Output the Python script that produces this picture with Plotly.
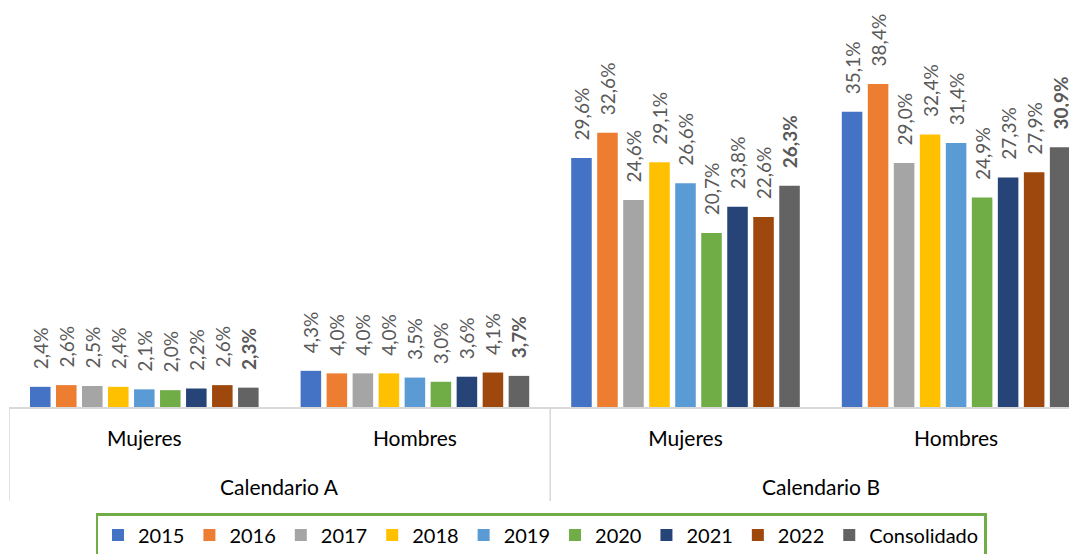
import plotly.graph_objects as go

calendarios = ["Calendario A", "Calendario A", "Calendario B", "Calendario B"]
sexos = ["Mujeres", "Hombres", "Mujeres", "Hombres"]
group_labels = ["Calendario A", "Calendario B"]

series_names = ["2015", "2016", "2017", "2018", "2019", "2020", "2021", "2022", "Consolidado"]
v2015 = [2.4, 4.3, 29.6, 35.1]
v2016 = [2.6, 4.0, 32.6, 38.4]
v2017 = [2.5, 4.0, 24.6, 29.0]
v2018 = [2.4, 4.0, 29.1, 32.4]
v2019 = [2.1, 3.5, 26.6, 31.4]
v2020 = [2.0, 3.0, 20.7, 24.9]
v2021 = [2.2, 3.6, 23.8, 27.3]
v2022 = [2.6, 4.1, 22.6, 27.9]
vcons = [2.3, 3.7, 26.3, 30.9]
series_values = [v2015, v2016, v2017, v2018, v2019, v2020, v2021, v2022, vcons]

colors = ["#4472C4", "#ED7D31", "#A5A5A5", "#FFC000", "#5B9BD5",
          "#70AD47", "#264478", "#9E480E", "#636363"]

FONT = "Lato, Open Sans, sans-serif"
PAD = "\u00a0" * 3

# unique category ids for each (calendario, sexo) pair
cat_ids = [f"{c}|{s}" for c, s in zip(calendarios, sexos)]

# page body has an 8px margin: figure is drawn offset by (8, 8)
W, H = 1069, 546
PLOT_H = 399.0   # plot area height (baseline at page y=407)
PLOT_W = 1068.0  # plot area width (page x 9 .. 1077)
CAT_PX = 270.6   # pixels per category (the right part is cropped like the reference)
x_range = [-0.5, -0.5 + PLOT_W / CAT_PX]

fig = go.Figure()
for name, vals, col in zip(series_names, series_values, colors):
    bold = name == "Consolidado"
    fig.add_trace(go.Bar(
        name=name,
        x=cat_ids,
        y=vals,
        marker=dict(color=col, line=dict(width=0)),
        texttemplate=(PAD + "<b>%{y:.1f}%</b>" if bold else PAD + "%{y:.1f}%"),
        textposition="outside",
        textangle=-90,
        constraintext="none",
        textfont=dict(family=FONT, size=19, color="#595959"),
        cliponaxis=False,
    ))

def py(page_y):
    return -(page_y - 407) / PLOT_H

annotations = []
for i, g in enumerate(group_labels):
    annotations.append(dict(
        text=g, xref="x", yref="paper",
        x=0.5 + 2 * i, y=py(486),
        xanchor="center", yanchor="middle", showarrow=False,
        font=dict(family=FONT, size=21, color="#000000"),
    ))

shapes = []
for xv in [-0.5, 1.5]:
    shapes.append(dict(
        type="line", xref="x", yref="paper",
        x0=xv, x1=xv, y0=0, y1=py(501),
        line=dict(color="#D9D9D9", width=1.5),
    ))

fig.update_layout(
    width=W, height=H,
    barmode="group",
    bargap=0.135,
    bargroupgap=0.21,
    separators=",.",
    paper_bgcolor="white",
    plot_bgcolor="white",
    margin=dict(l=1, r=0, t=0, b=H - PLOT_H, autoexpand=False),
    font=dict(family=FONT, size=18, color="#000000"),
    xaxis=dict(
        type="category",
        range=x_range,
        tickmode="array", tickvals=cat_ids, ticktext=sexos,
        showline=True, linecolor="#D9D9D9", linewidth=1.5,
        ticks="", ticklabelstandoff=12,
        tickfont=dict(family=FONT, size=21, color="#000000"),
        showgrid=False, automargin=False,
    ),
    yaxis=dict(range=[0, PLOT_H / 8.41], visible=False, showgrid=False, zeroline=False),
    legend=dict(
        orientation="h",
        x=(541 - 9) / PLOT_W, xanchor="center",
        y=py(513), yanchor="top",
        bordercolor="#70AD47", borderwidth=2.5,
        font=dict(family=FONT, size=20, color="#000000"),
        itemwidth=30,
    ),
    annotations=annotations,
    shapes=shapes,
)

fig.write_html("out.html")
